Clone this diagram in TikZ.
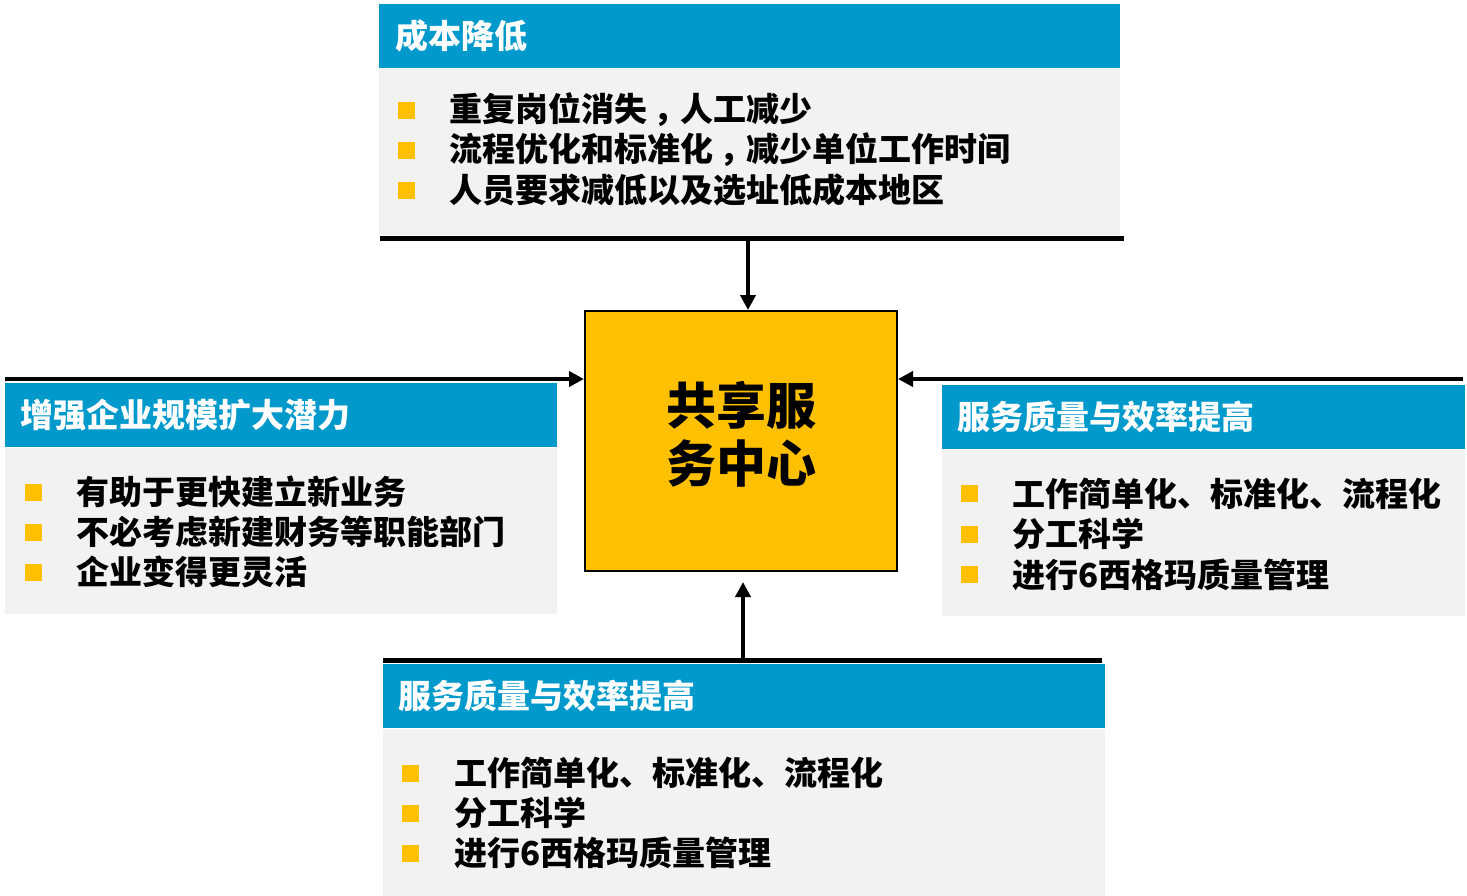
\documentclass[tikz,border=0pt]{standalone}
\usepackage{xcolor}
\usepackage{fontspec}
\setmainfont{Noto Sans CJK SC}[BoldFont={Noto Sans CJK SC Black}]
\newcommand{\fullcomma}{\hspace{0.2em}，\hspace{-0.2em}}
\usepackage{tikz}
\usetikzlibrary{arrows.meta, positioning}
\definecolor{hdblue}{RGB}{0,153,204}
\definecolor{bdgrey}{RGB}{242,242,242}
\definecolor{hubyellow}{RGB}{255,192,0}
\tikzstyle{head} = [rectangle, fill=hdblue, anchor=north west, inner sep=0pt, minimum height=64pt]
\tikzstyle{body} = [rectangle, fill=bdgrey, inner sep=0pt, minimum height=166pt]
\tikzstyle{title} = [inner sep=0pt, text=white, font=\bfseries\fontsize{33}{33}\selectfont]
\tikzstyle{item} = [inner sep=0pt, anchor=west, font=\bfseries\fontsize{33}{33}\selectfont]
\tikzstyle{bullet} = [rectangle, fill=hubyellow, minimum size=17pt, inner sep=0pt]
\tikzstyle{hub} = [rectangle, draw=black, line width=2pt, fill=hubyellow, minimum width=312pt, minimum height=260pt]
\tikzstyle{hubtext} = [align=center, inner sep=0pt, font=\bfseries\fontsize{50}{58}\selectfont]
\tikzstyle{bar} = [line width=5pt]
\tikzstyle{arrow} = [line width=4.5pt, -{Triangle[length=15pt, width=15pt]}]

\begin{document}
\begin{tikzpicture}[x=1pt, y=-1pt]
\useasboundingbox (0,0) rectangle (1467,895);
% Nodes
\node (hub) [hub] at (741,441) {};
\node (hubText) [hubtext] at ([yshift=7pt]hub.center) {共享服\\务中心};

\node (hdTop) [head, minimum width=741pt] at (379,4) {};
\node (bdTop) [body, minimum width=741pt, below=0pt of hdTop] {};
\node (tlTop) [title, right=16pt of hdTop.west] {成本降低};
\foreach \txt [count=\i] in {重复岗位消失\fullcomma 人工减少, 流程优化和标准化\fullcomma 减少单位工作时间, 人员要求减低以及选址低成本地区} {
  \node (sqTop\i) [bullet] at (406.5, 70+40*\i) {};
  \node (itTop\i) [item, right=34pt of sqTop\i.east] {\txt};
}

\node (hdLeft) [head, minimum width=552pt] at (5,383) {};
\node (bdLeft) [body, minimum width=552pt, below=0pt of hdLeft] {};
\node (tlLeft) [title, right=15pt of hdLeft.west] {增强企业规模扩大潜力};
\foreach \txt [count=\i] in {有助于更快建立新业务, 不必考虑新建财务等职能部门, 企业变得更灵活} {
  \node (sqLeft\i) [bullet] at (33.5, 452+40*\i) {};
  \node (itLeft\i) [item, right=34pt of sqLeft\i.east] {\txt};
}

\node (hdRight) [head, minimum width=523pt] at (942,385) {};
\node (bdRight) [body, minimum width=523pt, below=0pt of hdRight] {};
\node (tlRight) [title, right=15pt of hdRight.west] {服务质量与效率提高};
\foreach \txt [count=\i] in {工作简单化、标准化、流程化, 分工科学, 进行6西格玛质量管理} {
  \node (sqRight\i) [bullet] at (969.5, 453+40.5*\i) {};
  \node (itRight\i) [item, right=34pt of sqRight\i.east] {\txt};
}

\node (hdBot) [head, minimum width=722pt] at (383,664) {};
\node (bdBot) [body, minimum width=722pt, minimum height=167pt, below=0pt of hdBot] {};
\node (tlBot) [title, right=15pt of hdBot.west] {服务质量与效率提高};
\foreach \txt [count=\i] in {工作简单化、标准化、流程化, 分工科学, 进行6西格玛质量管理} {
  \node (sqBot\i) [bullet] at (410.5, 733+40*\i) {};
  \node (itBot\i) [item, right=35pt of sqBot\i.east] {\txt};
}

% Paths
\coordinate (topJoin) at (748,238.5);
\coordinate (leftEnd) at (5,379);
\coordinate (rightEnd) at (1463,379);
\coordinate (botJoin) at (743,660);
\coordinate (botTip) at (743,582);
\draw [bar] (380,238.5) -- (topJoin) -- (1124,238.5);
\draw [bar] (383,660) -- (botJoin) -- (1102,660);
\draw [arrow] (topJoin) -- (topJoin |- hub.north);
\draw [arrow] (leftEnd) -- (leftEnd -| hub.west);
\draw [arrow] (rightEnd) -- (rightEnd -| hub.east);
\draw [arrow] (botJoin) -- (botTip);

\end{tikzpicture}
\end{document}
